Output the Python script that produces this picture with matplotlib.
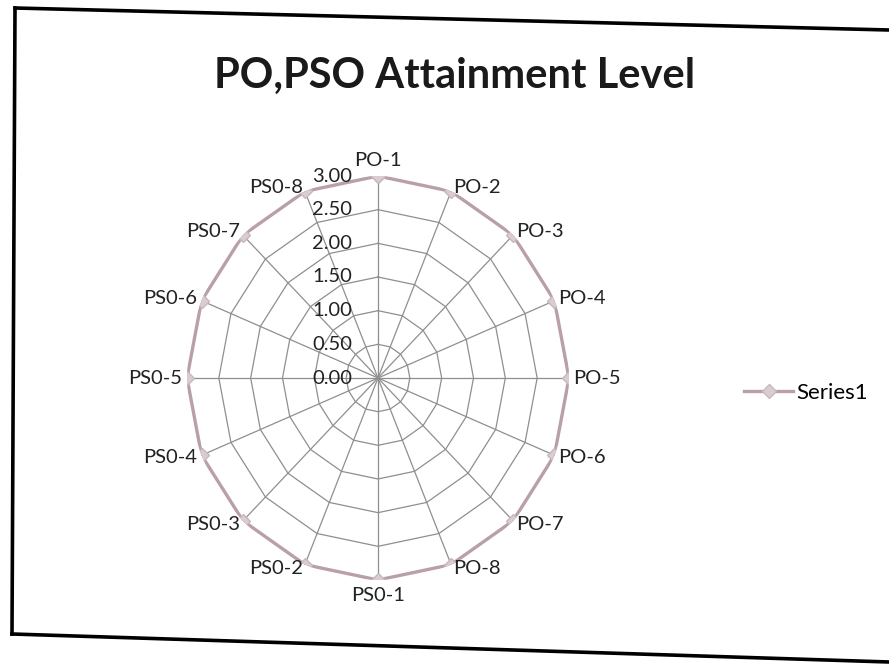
import numpy as np
import matplotlib
matplotlib.use("Agg")
import matplotlib.pyplot as plt
from matplotlib.lines import Line2D
from matplotlib.transforms import ScaledTranslation

# data
categories = ["PO-1", "PO-2", "PO-3", "PO-4", "PO-5", "PO-6", "PO-7", "PO-8",
              "PS0-1", "PS0-2", "PS0-3", "PS0-4", "PS0-5", "PS0-6", "PS0-7", "PS0-8"]
values = [3.00, 3.00, 3.00, 3.00, 3.00, 3.00, 3.00, 3.00,
          3.00, 3.00, 3.00, 3.00, 3.00, 3.00, 3.00, 3.00]
levels = [0.0, 0.5, 1.0, 1.5, 2.0, 2.5, 3.0]
level_labels = ["0.00", "0.50", "1.00", "1.50", "2.00", "2.50", "3.00"]
series_name = "Series1"

plt.rcParams["font.family"] = ["Lato", "DejaVu Sans"]

W, H = 889, 666
fig = plt.figure(figsize=(W / 100, H / 100), dpi=100)
fig.patch.set_facecolor("white")

# scanned border around the chart (slightly skewed)
def px(x, y):
    return x / W, 1 - y / H

for (x0, y0), (x1, y1) in [((15, 8), (889, 30)), ((15, 8), (12, 634)),
                           ((12, 634), (889, 662))]:
    a, b = px(x0, y0)
    c, d = px(x1, y1)
    fig.add_artist(Line2D([a, c], [b, d], color="black", lw=2.6,
                          solid_capstyle="projecting"))

fig.text(455 / W, 1 - 76 / H, "PO,PSO Attainment Level", ha="center", va="center",
         fontsize=30, fontweight="bold", color="#1a1a1a")

# the scan stretches the plot slightly in height
cx, cy, Rx, Ry = 378, 378, 191, 202
ax = fig.add_axes([(cx - Rx) / W, 1 - (cy + Ry) / H, 2 * Rx / W, 2 * Ry / H],
                  projection="polar")
ax.set_aspect("auto")
ax.set_theta_zero_location("N")
ax.set_theta_direction(-1)
ax.set_ylim(0, 3)
ax.grid(False)
ax.spines["polar"].set_visible(False)
ax.set_xticks([])
ax.set_yticks([])
ax.patch.set_alpha(0)

n = len(categories)
theta = np.arange(n) * 2 * np.pi / n
theta_c = np.append(theta, theta[0])

grid_col = "#8f8f8f"
for lv in levels[1:]:
    ax.plot(theta_c, [lv] * (n + 1), color=grid_col, lw=0.9, zorder=1)
for t in theta:
    ax.plot([t, t], [0, 3], color=grid_col, lw=0.9, zorder=1)

vals_c = np.append(values, values[0])
ax.plot(theta_c, vals_c, color="#b8a0a6", lw=2.4, zorder=3,
        marker="D", markersize=7, markerfacecolor="#d9cdd0",
        markeredgecolor="#c8b8bc", label=series_name)

# radial value labels, left of the vertical axis
off = ax.transData + ScaledTranslation(-0.26, 0, fig.dpi_scale_trans)
for lv, lab in zip(levels, level_labels):
    ax.text(0, lv, lab, transform=off, ha="right", va="center",
            fontsize=14.5, color="#222222", clip_on=False)

# category labels
for t, lab in zip(theta, categories):
    s, c = np.sin(t), np.cos(t)
    if abs(s) < 0.1:
        ha = "center"
        va = "bottom" if c > 0 else "top"
        r = 3.1
    else:
        ha = "left" if s > 0 else "right"
        va = "center"
        r = 3.07
    ax.text(t, r, lab, ha=ha, va=va, fontsize=14.5, color="#222222", clip_on=False)

leg = ax.legend(loc="center left", bbox_to_anchor=(733 / W, 1 - 393 / H),
                bbox_transform=fig.transFigure, frameon=False, fontsize=16,
                handlelength=2.2, handletextpad=0.15, borderpad=0)

fig.savefig("out.png", dpi=100)
